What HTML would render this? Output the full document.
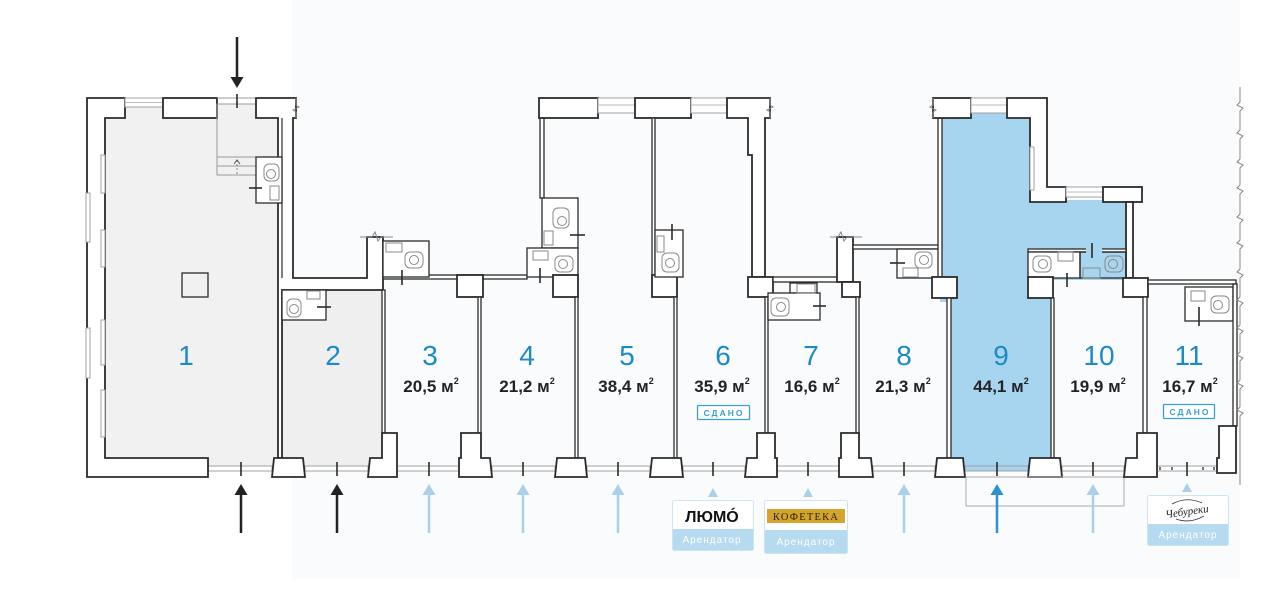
<!DOCTYPE html>
<html><head><meta charset="utf-8">
<style>
html,body{margin:0;padding:0;background:#fff;}
svg{display:block}
.w{fill:#fff;stroke:#2b2b2b;stroke-width:1.8}
.p{fill:#fff;stroke:#2b2b2b;stroke-width:1.3}
.pn{fill:none;stroke:#2b2b2b;stroke-width:1.3}
.win{fill:#fff;stroke:#a0a0a0;stroke-width:1}
.br{fill:none;stroke:#888;stroke-width:1}
.fx{fill:none;stroke:#8a8a8a;stroke-width:1}
.tk{stroke:#2b2b2b;stroke-width:1.6}
.num{font-family:"Liberation Sans",sans-serif;font-size:28px;fill:#1b8bc8;text-anchor:middle}
.ar{font-family:"Liberation Sans",sans-serif;font-size:17px;font-weight:bold;fill:#232323;text-anchor:middle}
.sd{font-family:"Liberation Sans",sans-serif;font-size:8.5px;font-weight:bold;fill:#3a9fd2;text-anchor:middle;letter-spacing:2px}
.ren{font-family:"Liberation Sans",sans-serif;font-size:10px;fill:#fff;text-anchor:middle;letter-spacing:1px}
</style></head><body>
<svg width="1280" height="596" viewBox="0 0 1280 596">
<rect x="292" y="0" width="948" height="578" fill="#fafbfd"/>

<!-- room fills -->
<rect x="100" y="104" width="182" height="366" fill="#f1f1f1"/>
<rect x="282" y="288" width="100" height="182" fill="#efefef"/>
<rect x="940" y="108" width="92" height="194" fill="#a7d5f0"/>
<rect x="1028" y="200" width="100" height="80" fill="#a7d5f0"/>
<rect x="949" y="278" width="104" height="192" fill="#a7d5f0"/>

<!-- bottom window/door strips -->
<g class="win">
<rect x="208" y="466" width="64" height="5"/>
<rect x="305" y="466" width="63" height="5"/>
<rect x="397" y="466" width="62" height="5"/>
<rect x="492" y="466" width="63" height="5"/>
<rect x="587" y="466" width="63" height="5"/>
<rect x="683" y="466" width="62" height="5"/>
<rect x="777" y="466" width="62" height="5"/>
<rect x="873" y="466" width="62" height="5"/>
<rect x="965" y="466" width="63" height="5" fill="#a7d5f0"/>
<rect x="1062" y="466" width="62" height="5"/>
<rect x="1157" y="466" width="60" height="5"/>
</g>
<g fill="#777"><rect x="1159" y="467" width="2" height="3"/><rect x="1171" y="467" width="2" height="3"/><rect x="1202" y="467" width="2" height="3"/><rect x="1213" y="467" width="2" height="3"/></g>

<!-- unit 1 -->
<polygon class="w" points="87,98 125,98 125,118 105,118 105,458 208,458 208,477 87,477"/>
<rect class="win" x="125" y="98" width="38" height="9"/>
<line x1="125" y1="102.5" x2="163" y2="102.5" stroke="#bbb"/>
<rect class="w" x="163" y="98" width="54" height="20"/>
<line x1="217" y1="98" x2="256" y2="98" stroke="#999"/>
<line x1="217" y1="104" x2="256" y2="104" stroke="#999"/>
<line class="tk" x1="237" y1="94" x2="237" y2="108"/>
<polygon class="w" points="256,98 296,98 296,118 293,118 293,278 367,278 367,237 383,237 383,290 282,290 282,458 278,458 278,118 256,118"/>
<line x1="282" y1="118" x2="282" y2="278" stroke="#2b2b2b" stroke-width="1.2"/>
<polyline class="br" points="296,98 296,105 299,107 293,110 296,112 296,118"/>
<polyline class="br" points="360,237 372,237 375,232 378,241 381,237 393,237"/>
<g class="win">
<rect x="101" y="155" width="4" height="38"/>
<rect x="101" y="230" width="4" height="37"/>
<rect x="101" y="320" width="4" height="45"/>
<rect x="101" y="390" width="4" height="47"/>
<rect x="86" y="193" width="4" height="49"/>
<rect x="86" y="328" width="4" height="50"/>
</g>
<line x1="217" y1="104" x2="217" y2="175" stroke="#999"/>
<rect x="217" y="157" width="39" height="18" fill="none" stroke="#999"/>
<line x1="217" y1="166" x2="256" y2="166" stroke="#999"/>
<line x1="237" y1="160" x2="237" y2="175" stroke="#888" stroke-dasharray="2,2"/>
<polyline points="234,164 237,160 240,164" fill="none" stroke="#555"/>
<rect class="p" x="256" y="157" width="26" height="46" stroke-width="1.8"/>
<rect class="fx" x="264" y="164" width="15" height="17" rx="5"/><circle class="fx" cx="271" cy="174" r="4.5"/>
<rect class="fx" x="270" y="186" width="9" height="14"/>
<line class="tk" x1="249" y1="188" x2="262" y2="188"/>
<rect class="pn" x="182" y="273" width="26" height="24"/>
<polygon class="w" points="274,458 303,458 305,477 272,477"/>
<line class="tk" x1="241" y1="462" x2="241" y2="476"/>

<!-- unit 2 -->
<rect class="p" x="282" y="290" width="44" height="30"/>
<rect class="fx" x="287" y="299" width="14" height="18" rx="5"/><circle class="fx" cx="294" cy="309" r="4.5"/>
<rect class="fx" x="307" y="291" width="13" height="8"/>
<line class="tk" x1="317" y1="307" x2="331" y2="307"/>
<rect class="p" x="382" y="290" width="3" height="143"/>
<polygon class="w" points="382,433 397,433 397,477 368,477 370,458 382,458"/>
<line class="tk" x1="337" y1="462" x2="337" y2="476"/>

<!-- unit 3 -->
<rect class="p" x="383" y="275" width="144" height="4"/>
<rect class="p" x="383" y="241" width="46" height="36" stroke-width="1.8"/>
<rect class="fx" x="405" y="252" width="18" height="16" rx="5"/><circle class="fx" cx="414" cy="260" r="4.5"/>
<rect class="fx" x="386" y="243" width="16" height="9"/>
<line class="tk" x1="402" y1="270" x2="402" y2="285"/>
<rect class="w" x="457" y="275" width="26" height="22"/>
<rect class="p" x="478" y="297" width="3" height="136"/>
<polygon class="w" points="461,433 481,433 481,458 490,458 492,477 459,477 459,458 461,458"/>
<line class="tk" x1="429" y1="462" x2="429" y2="476"/>

<!-- unit 4/5 -->
<rect class="p" x="540" y="118" width="4" height="80"/>
<rect class="p" x="542" y="198" width="36" height="50" stroke-width="1.8"/>
<rect class="fx" x="553" y="208" width="16" height="20" rx="5"/><circle class="fx" cx="562" cy="221" r="4.5"/>
<rect class="fx" x="544" y="231" width="9" height="14"/>
<line class="tk" x1="570" y1="235" x2="585" y2="235"/>
<rect class="p" x="527" y="248" width="51" height="29" stroke-width="1.8"/>
<rect class="fx" x="555" y="256" width="18" height="16" rx="5"/><circle class="fx" cx="563" cy="264" r="4.5"/>
<rect class="fx" x="533" y="251" width="15" height="9"/>
<line class="tk" x1="540" y1="268" x2="540" y2="283"/>
<rect class="w" x="553" y="275" width="25" height="22"/>
<rect class="p" x="575" y="297" width="3" height="161"/>
<polygon class="w" points="557,458 585,458 587,477 555,477"/>
<line class="tk" x1="523" y1="462" x2="523" y2="476"/>
<line class="tk" x1="618" y1="462" x2="618" y2="476"/>

<!-- top wall 5/6 -->
<rect class="w" x="539" y="98" width="59" height="20"/>
<rect class="win" x="598" y="98" width="37" height="15"/>
<line x1="598" y1="105" x2="635" y2="105" stroke="#bbb"/>
<rect class="w" x="635" y="98" width="56" height="20"/>
<rect class="win" x="691" y="98" width="36" height="15"/>
<line x1="691" y1="105" x2="727" y2="105" stroke="#bbb"/>
<polygon class="w" points="727,98 770,98 770,118 765,118 765,277 752,277 752,155 748,155 748,118 727,118"/>
<polyline class="br" points="770,98 770,105 773,107 767,110 770,112 770,118"/>
<rect class="p" x="652" y="118" width="3" height="157"/>
<rect class="w" x="652" y="275" width="25" height="22"/>
<rect class="p" x="674" y="297" width="3" height="161"/>
<polygon class="w" points="652,458 681,458 683,477 650,477"/>
<rect class="p" x="655" y="230" width="28" height="47" stroke-width="1.8"/>
<rect class="fx" x="662" y="253" width="17" height="19" rx="5"/><circle class="fx" cx="670" cy="263" r="4.5"/>
<rect class="fx" x="657" y="236" width="7" height="16"/>
<line class="tk" x1="672" y1="224" x2="672" y2="240"/>
<line class="tk" x1="713" y1="462" x2="713" y2="476"/>

<!-- unit 6/7 -->
<rect class="w" x="748" y="277" width="25" height="20"/>
<rect class="p" x="765" y="297" width="3" height="136"/>
<polygon class="w" points="757,433 775,433 775,458 777,458 777,477 745,477 747,458 757,458"/>
<rect class="p" x="773" y="277" width="69" height="5"/>
<rect class="p" x="790" y="283" width="27" height="10"/>
<rect class="p" x="768" y="293" width="52" height="27" stroke-width="1.8"/>
<rect class="fx" x="771" y="298" width="18" height="18" rx="5"/><circle class="fx" cx="781" cy="307" r="4.5"/>
<rect class="fx" x="797" y="284" width="18" height="9"/>
<line class="tk" x1="813" y1="306" x2="826" y2="306"/>
<line class="tk" x1="808" y1="462" x2="808" y2="476"/>

<!-- unit 7/8 -->
<rect class="w" x="837" y="237" width="16" height="45"/>
<polyline class="br" points="830,237 838,237 841,232 844,241 847,237 862,237"/>
<rect class="w" x="842" y="282" width="18" height="15"/>
<rect class="p" x="856" y="297" width="3" height="136"/>
<polygon class="w" points="841,433 859,433 859,458 871,458 873,477 839,477 839,458 841,458"/>
<rect class="p" x="853" y="245" width="87" height="4"/>
<rect class="p" x="897" y="249" width="43" height="29" stroke-width="1.8"/>
<rect class="fx" x="915" y="252" width="17" height="16" rx="5"/><circle class="fx" cx="924" cy="260" r="4.5"/>
<rect class="fx" x="903" y="268" width="15" height="9"/>
<line class="tk" x1="890" y1="263" x2="905" y2="263"/>
<line class="tk" x1="904" y1="462" x2="904" y2="476"/>

<!-- unit 8/9 -->
<rect class="p" x="938" y="118" width="4" height="159"/>
<rect class="w" x="932" y="277" width="25" height="21"/>
<rect class="p" x="947" y="298" width="4" height="160"/>
<polygon class="w" points="937,458 963,458 965,477 935,477"/>
<line class="tk" x1="997" y1="462" x2="997" y2="476"/>

<!-- unit 9 top -->
<rect class="w" x="933" y="98" width="38" height="20"/>
<polyline class="br" points="933,98 933,105 930,107 936,110 933,112 933,118"/>
<rect class="win" x="971" y="98" width="36" height="15"/>
<line x1="971" y1="105" x2="1007" y2="105" stroke="#bbb"/>
<polygon class="w" points="1007,98 1047,98 1047,187 1066,187 1066,202 1030,202 1030,118 1007,118"/>
<rect class="win" x="1030" y="147" width="4" height="43"/>
<rect class="win" x="1066" y="187" width="37" height="10"/>
<line x1="1066" y1="192" x2="1103" y2="192" stroke="#bbb"/>
<rect class="w" x="1103" y="187" width="39" height="15"/>
<rect class="w" x="1126" y="202" width="7" height="76"/>
<rect class="p" x="1028" y="249" width="98" height="3"/>
<rect class="p" x="1028" y="252" width="52" height="26" stroke-width="1.8"/>
<rect class="pn" x="1080" y="252" width="46" height="26" stroke-width="1.8"/>
<rect fill="#a7d5f0" x="1086" y="247" width="16" height="8"/>
<line class="tk" x1="1092" y1="243" x2="1092" y2="258"/>
<rect class="fx" x="1033" y="256" width="18" height="16" rx="5"/><circle class="fx" cx="1043" cy="264" r="4.5"/>
<rect class="fx" x="1058" y="252" width="15" height="9"/>
<rect class="fx" x="1105" y="256" width="18" height="16" rx="5" stroke="#4a6f88"/><circle class="fx" cx="1113" cy="264" r="4.5" stroke="#4a6f88"/>
<rect class="fx" x="1083" y="268" width="17" height="10" stroke="#4a6f88"/>
<line class="tk" x1="1067" y1="273" x2="1067" y2="287"/>
<rect class="w" x="1028" y="277" width="25" height="21"/>
<rect class="p" x="1051" y="298" width="3" height="160"/>
<polygon class="w" points="1030,458 1060,458 1062,477 1028,477"/>
<rect x="966" y="477" width="158" height="29" fill="none" stroke="#aaa" stroke-width="1"/>
<line class="tk" x1="1093" y1="462" x2="1093" y2="476"/>

<!-- unit 10/11 -->
<rect class="w" x="1123" y="278" width="25" height="19"/>
<rect class="p" x="1143" y="297" width="4" height="136"/>
<polygon class="w" points="1137,433 1157,433 1157,477 1124,477 1126,458 1137,458"/>
<rect class="p" x="1148" y="280" width="88" height="4"/>
<rect class="p" x="1185" y="287" width="48" height="34" stroke-width="1.8"/>
<rect class="fx" x="1211" y="296" width="18" height="17" rx="5"/><circle class="fx" cx="1218" cy="305" r="4.5"/>
<rect class="fx" x="1191" y="291" width="14" height="10"/>
<line class="tk" x1="1199" y1="307" x2="1199" y2="326"/>
<rect class="p" x="1233" y="284" width="4" height="142"/>
<polygon class="w" points="1219,426 1236,426 1236,473 1217,473 1217,458 1219,458"/>
<line class="tk" x1="1187" y1="462" x2="1187" y2="476"/>
<polyline class="br" stroke="#777" points="1240,87 1240,102 1237,105 1243,108 1240,111 1240,130 1237,133 1243,136 1240,139 1240,159 1237,162 1243,165 1240,168 1240,185 1237,188 1243,191 1240,194 1240,214 1237,217 1243,220 1240,223 1240,240 1237,243 1243,246 1240,249 1240,269 1237,272 1243,275 1240,278 1240,297 1237,300 1243,303 1240,306 1240,325 1237,328 1243,331 1240,334 1240,352 1237,355 1243,358 1240,361 1240,380 1237,383 1243,386 1240,389 1240,407 1237,410 1243,413 1240,416 1240,485"/>

<!-- arrows -->
<g fill="#222" stroke="#222">
<line x1="237" y1="37" x2="237" y2="78" stroke-width="2.5"/>
<polygon points="230.5,77 243.5,77 237,88" stroke="none"/>
<line x1="241" y1="533" x2="241" y2="493" stroke-width="2.5"/>
<polygon points="234.5,495 247.5,495 241,484" stroke="none"/>
<line x1="337" y1="533" x2="337" y2="493" stroke-width="2.5"/>
<polygon points="330.5,495 343.5,495 337,484" stroke="none"/>
</g>
<g fill="#abd0ea" stroke="#abd0ea">
<line x1="429" y1="533" x2="429" y2="493" stroke-width="2.5"/><polygon points="422.5,495 435.5,495 429,484" stroke="none"/>
<line x1="523" y1="533" x2="523" y2="493" stroke-width="2.5"/><polygon points="516.5,495 529.5,495 523,484" stroke="none"/>
<line x1="618" y1="533" x2="618" y2="493" stroke-width="2.5"/><polygon points="611.5,495 624.5,495 618,484" stroke="none"/>
<line x1="904" y1="533" x2="904" y2="493" stroke-width="2.5"/><polygon points="897.5,495 910.5,495 904,484" stroke="none"/>
<line x1="1093" y1="533" x2="1093" y2="493" stroke-width="2.5"/><polygon points="1086.5,495 1099.5,495 1093,484" stroke="none"/>
<polygon points="708,497 718,497 713,488" stroke="none"/>
<polygon points="803,497 813,497 808,488" stroke="none"/>
<polygon points="1182,492 1192,492 1187,483" stroke="none"/>
</g>
<g fill="#2a92d1" stroke="#2a92d1">
<line x1="997" y1="533" x2="997" y2="493" stroke-width="2.5"/><polygon points="990.5,495 1003.5,495 997,484" stroke="none"/>
</g>

<!-- labels -->
<text class="num" x="186" y="365">1</text>
<text class="num" x="333" y="365">2</text>
<text class="num" x="430" y="365">3</text>
<text class="num" x="527" y="365">4</text>
<text class="num" x="627" y="365">5</text>
<text class="num" x="723" y="365">6</text>
<text class="num" x="811" y="365">7</text>
<text class="num" x="904" y="365">8</text>
<text class="num" x="1001" y="365">9</text>
<text class="num" x="1099" y="365">10</text>
<text class="num" x="1189" y="365">11</text>

<text class="ar" x="431" y="392">20,5 м<tspan font-size="9" dy="-8">2</tspan></text>
<text class="ar" x="527" y="392">21,2 м<tspan font-size="9" dy="-8">2</tspan></text>
<text class="ar" x="626" y="392">38,4 м<tspan font-size="9" dy="-8">2</tspan></text>
<text class="ar" x="722" y="392">35,9 м<tspan font-size="9" dy="-8">2</tspan></text>
<text class="ar" x="812" y="392">16,6 м<tspan font-size="9" dy="-8">2</tspan></text>
<text class="ar" x="903" y="392">21,3 м<tspan font-size="9" dy="-8">2</tspan></text>
<text class="ar" x="1001" y="392">44,1 м<tspan font-size="9" dy="-8">2</tspan></text>
<text class="ar" x="1098" y="392">19,9 м<tspan font-size="9" dy="-8">2</tspan></text>
<text class="ar" x="1190" y="392">16,7 м<tspan font-size="9" dy="-8">2</tspan></text>

<rect x="697.5" y="405.5" width="52" height="14" fill="#fff" stroke="#3a9fd2" stroke-width="1.3" rx="1"/>
<text class="sd" x="724" y="416">СДАНО</text>
<rect x="1163.5" y="404.5" width="51" height="14" fill="#fff" stroke="#3a9fd2" stroke-width="1.3" rx="1"/>
<text class="sd" x="1190" y="415">СДАНО</text>

<!-- tenant boxes -->
<rect x="672.5" y="500.5" width="81" height="50" rx="2" fill="#fff" stroke="#cfe4f3"/>
<rect x="673" y="529" width="80" height="21" fill="#b6daf0"/>
<text x="712" y="522" font-family="Liberation Sans,sans-serif" font-size="16" font-weight="bold" fill="#111" text-anchor="middle">ЛЮМÓ</text>
<text class="ren" x="712" y="543">Арендатор</text>

<rect x="764.5" y="500.5" width="83" height="53" rx="2" fill="#fff" stroke="#cfe4f3"/>
<rect x="767" y="509" width="78" height="14" fill="#d5a52b"/>
<text x="806" y="520" font-family="Liberation Serif,serif" font-size="10.5" fill="#2a2210" text-anchor="middle" letter-spacing="1.2">КОФЕТЕКА</text>
<rect x="765" y="530" width="82" height="23" fill="#b6daf0"/>
<text class="ren" x="806" y="545">Арендатор</text>

<rect x="1147.5" y="495.5" width="81" height="50" rx="2" fill="#fff" stroke="#cfe4f3"/>
<path d="M1172,504 Q1187,496 1202,503" fill="none" stroke="#333" stroke-width="0.8"/>
<path d="M1176,519 Q1190,524 1204,516" fill="none" stroke="#333" stroke-width="0.8"/>
<text x="1187" y="515" font-family="Liberation Serif,serif" font-style="italic" font-size="11" fill="#222" text-anchor="middle" transform="rotate(-8 1187 512)">Чебуреки</text>
<rect x="1148" y="524" width="80" height="21" fill="#b6daf0"/>
<text class="ren" x="1188" y="538">Арендатор</text>
</svg>
</body></html>
